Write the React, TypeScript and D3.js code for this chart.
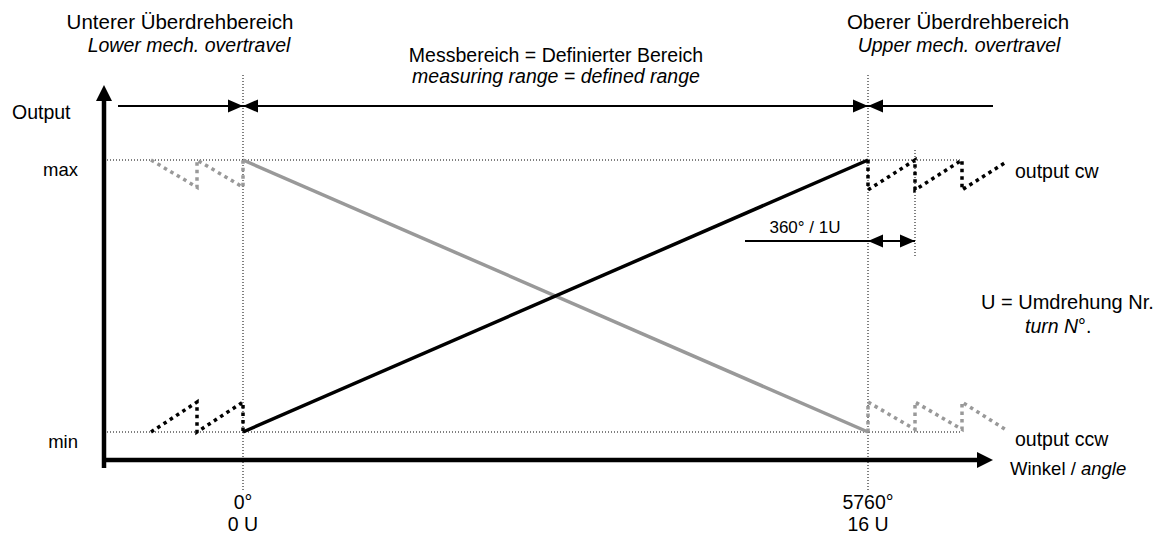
import * as d3 from "d3";

const width = 1167;
const height = 547;

// angle axis (degrees), one turn = 360°
const angleTicks = [0, 5760];
const angleLabels = ["0°", "5760°"];
const turnLabels = ["0 U", "16 U"];
const turnMark = 6120; // 5760° + 360°

// output levels: 0 = min, 1 = max
const levelLabels = ["min", "max"];

// measuring range lines [angle, output]
const cwMain: [number, number][] = [[0, 0], [5760, 1]];
const ccwMain: [number, number][] = [[0, 1], [5760, 0]];

// overtravel sawtooth, lower end
const cwLower: [number, number][] = [[-720, 0], [-360, 0.11], [-360, 0], [0, 0.11], [0, 0]];
const ccwLower: [number, number][] = [[-720, 1], [-360, 0.9], [-360, 1], [0, 0.9], [0, 1]];

// overtravel sawtooth, upper end
const cwUpper: [number, number][] = [
  [5760, 1], [5760, 0.89], [6120, 1], [6120, 0.89], [6480, 1], [6480, 0.89], [6810, 0.99],
];
const ccwUpper: [number, number][] = [
  [5760, 0], [5760, 0.11], [6120, 0.01], [6120, 0.11], [6480, 0.01], [6480, 0.11], [6810, 0.01],
];

const GRAY = "#999999";
const FONT = "'Liberation Sans', Arial, Helvetica, sans-serif";

// schematic: overtravel turns drawn wider than turns in the measuring range
const x = d3.scaleLinear().domain([-720, 0, 5760, 6480]).range([151, 243, 868, 962]);
const y = d3.scaleLinear().domain([0, 1]).range([432, 160]);

const line = d3
  .line<[number, number]>()
  .x((d) => x(d[0]))
  .y((d) => y(d[1]));

// triangle arrow head, tip at (tx, ty), pointing in direction dir
const arrow = (tx: number, ty: number, dir: "l" | "r" | "u", len = 15, half = 7) => {
  if (dir === "r") return `M${tx},${ty}L${tx - len},${ty - half}L${tx - len},${ty + half}Z`;
  if (dir === "l") return `M${tx},${ty}L${tx + len},${ty - half}L${tx + len},${ty + half}Z`;
  return `M${tx},${ty}L${tx - half},${ty + len}L${tx + half},${ty + len}Z`;
};

const axisX0 = 104;
const axisY0 = 460;
const axisXEnd = 993;
const axisYTop = 85;
const rangeY = 106;
const dimY = 241;

export default function App() {
  const xs = angleTicks.map((a) => x(a));
  return (
    <svg
      width={width}
      height={height}
      style={{ position: "absolute", left: 0, top: 0, background: "#fff" }}
      fontFamily={FONT}
      fontSize={19.5}
    >
      {/* reference grid (dotted) */}
      <g stroke="#000" strokeWidth={1} strokeDasharray="1,2" fill="none">
        {xs.map((v, i) => (
          <line key={i} x1={v} x2={v} y1={75} y2={490} />
        ))}
        <line x1={x(turnMark)} x2={x(turnMark)} y1={150} y2={256} />
        {[0, 1].map((l) => (
          <line key={l} x1={axisX0} x2={x(6480)} y1={y(l)} y2={y(l)} />
        ))}
      </g>

      {/* axes */}
      <line x1={axisX0} x2={axisX0} y1={468} y2={axisYTop + 12} stroke="#000" strokeWidth={4.5} />
      <path d={arrow(axisX0, axisYTop, "u", 16, 8)} fill="#000" />
      <line x1={axisX0 - 2} x2={axisXEnd - 12} y1={axisY0} y2={axisY0} stroke="#000" strokeWidth={4.5} />
      <path d={arrow(axisXEnd, axisY0, "r", 16, 8)} fill="#000" />

      {/* range arrows */}
      <line x1={118} x2={axisXEnd} y1={rangeY} y2={rangeY} stroke="#000" strokeWidth={2} />
      {xs.map((v, i) => (
        <g key={i} fill="#000">
          <path d={arrow(v, rangeY, "r", 15, 6.5)} />
          <path d={arrow(v, rangeY, "l", 15, 6.5)} />
        </g>
      ))}

      {/* 360° / 1U dimension */}
      <line x1={745} x2={x(turnMark)} y1={dimY} y2={dimY} stroke="#000" strokeWidth={2} />
      <path d={arrow(x(5760), dimY, "l", 15, 6.5)} fill="#000" />
      <path d={arrow(x(turnMark), dimY, "r", 15, 6.5)} fill="#000" />
      <text x={805} y={233} textAnchor="middle" fontSize={17}>
        360° / 1U
      </text>

      {/* transfer lines */}
      <path d={line(ccwMain) ?? ""} stroke={GRAY} strokeWidth={3.5} fill="none" />
      <path d={line(cwMain) ?? ""} stroke="#000" strokeWidth={3.5} fill="none" />

      {/* overtravel sawtooth */}
      <g fill="none" strokeWidth={3.5} strokeDasharray="3.5,4">
        <path d={line(ccwLower) ?? ""} stroke={GRAY} />
        <path d={line(ccwUpper) ?? ""} stroke={GRAY} />
        <path d={line(cwLower) ?? ""} stroke="#000" />
        <path d={line(cwUpper) ?? ""} stroke="#000" />
      </g>

      {/* labels */}
      <text x={180} y={29} textAnchor="middle" fontSize={20.5}>Unterer Überdrehbereich</text>
      <text x={189} y={52} textAnchor="middle" fontStyle="italic">Lower mech. overtravel</text>
      <text x={556} y={62} textAnchor="middle">Messbereich = Definierter Bereich</text>
      <text x={556} y={83} textAnchor="middle" fontStyle="italic">measuring range = defined range</text>
      <text x={958} y={29} textAnchor="middle" fontSize={20.5}>Oberer Überdrehbereich</text>
      <text x={959} y={52} textAnchor="middle" fontStyle="italic">Upper mech. overtravel</text>

      <text x={12} y={119}>Output</text>
      {[0, 1].map((l) => (
        <text key={l} x={78} y={y(l) + 16} textAnchor="end" fontSize={18.5}>
          {levelLabels[l]}
        </text>
      ))}
      <text x={1015} y={y(1) + 18}>output cw</text>
      <text x={1015} y={y(0) + 14}>output ccw</text>

      <text x={981} y={309} fontSize={20}>U = Umdrehung Nr.</text>
      <text x={1025} y={333}>
        <tspan fontStyle="italic">turn N</tspan>°.
      </text>

      <text x={1010} y={475} fontSize={18.5}>
        Winkel / <tspan fontStyle="italic">angle</tspan>
      </text>

      {xs.map((v, i) => (
        <g key={i} textAnchor="middle">
          <text x={v} y={509}>{angleLabels[i]}</text>
          <text x={v} y={531}>{turnLabels[i]}</text>
        </g>
      ))}
    </svg>
  );
}
